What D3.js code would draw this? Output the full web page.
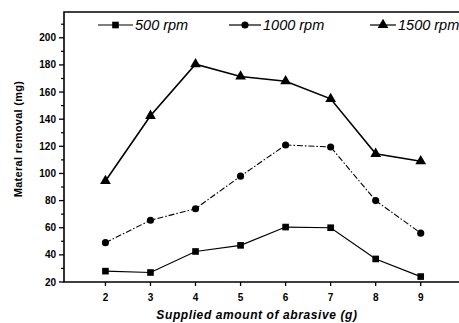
<!DOCTYPE html>
<html>
<head>
<meta charset="utf-8">
<script src="https://cdn.jsdelivr.net/npm/d3@7"></script>
<style>
  body { margin: 0; background: #fff; }
  svg { display: block; font-family: "Liberation Sans", Arial, sans-serif; }
</style>
</head>
<body>
<figure id="chart" style="margin:0"></figure>
<script>
// values
const abrasive = [2, 3, 4, 5, 6, 7, 8, 9];
const rpm500 = [28, 27, 42.5, 47, 60.5, 60, 37, 24];
const rpm1000 = [49, 65.5, 74, 98, 121, 119.5, 80, 56];
const rpm1500 = [94.5, 142.5, 180.5, 171.5, 168, 155, 114.5, 109];
const seriesNames = ["500 rpm", "1000 rpm", "1500 rpm"];
const yTicks = [20, 40, 60, 80, 100, 120, 140, 160, 180, 200];
const yMinor = [30, 50, 70, 90, 110, 130, 150, 170, 190, 210];

const width = 459, height = 323;

const x = d3.scaleLinear().domain([1.08, 9.85]).range([64, 459]);
const y = d3.scaleLinear().domain([20, 219]).range([282, 12]);

const svg = d3.select("#chart").append("svg")
  .attr("width", width)
  .attr("height", height);

// frame: left axis, bottom axis, top line
svg.append("path")
  .attr("d", `M${x.range()[1]},${y(219)}H${x(1.08)}V${y(20)}H${x.range()[1]}`)
  .attr("fill", "none")
  .attr("stroke", "#000")
  .attr("stroke-width", 1.6);

// y ticks
svg.selectAll(".ytick").data(yTicks).enter().append("line")
  .attr("x1", x(1.08) - 5).attr("x2", x(1.08))
  .attr("y1", d => y(d)).attr("y2", d => y(d))
  .attr("stroke", "#000").attr("stroke-width", 1.3);
svg.selectAll(".yminor").data(yMinor).enter().append("line")
  .attr("x1", x(1.08) - 3).attr("x2", x(1.08))
  .attr("y1", d => y(d)).attr("y2", d => y(d))
  .attr("stroke", "#000").attr("stroke-width", 1.2);
svg.selectAll(".ylab").data(yTicks).enter().append("text")
  .attr("x", x(1.08) - 8)
  .attr("y", d => y(d) + 3.5)
  .attr("text-anchor", "end")
  .style("font-size", "10px")
  .style("font-weight", "bold")
  .text(d => d);

// x ticks
svg.selectAll(".xtick").data(abrasive).enter().append("line")
  .attr("x1", d => x(d)).attr("x2", d => x(d))
  .attr("y1", y(20)).attr("y2", y(20) + 4)
  .attr("stroke", "#000").attr("stroke-width", 1.3);
svg.selectAll(".xlab").data(abrasive).enter().append("text")
  .attr("x", d => x(d))
  .attr("y", y(20) + 19)
  .attr("text-anchor", "middle")
  .style("font-size", "10px")
  .style("font-weight", "bold")
  .text(d => d);

// axis titles
svg.append("text")
  .attr("x", 257).attr("y", 319)
  .attr("text-anchor", "middle")
  .style("font-size", "12px")
  .style("font-weight", "bold")
  .style("font-style", "italic")
  .style("letter-spacing", "0.6px")
  .text("Supplied amount of abrasive (g)");
svg.append("text")
  .attr("transform", "translate(22,139) rotate(-90)")
  .attr("text-anchor", "middle")
  .style("font-size", "11px")
  .style("font-weight", "bold")
  .style("letter-spacing", "0.3px")
  .text("Materal removal (mg)");

const series = [
  { name: seriesNames[0], values: rpm500, marker: d3.symbolSquare, size: 44, width: 1.2, dash: null },
  { name: seriesNames[1], values: rpm1000, marker: d3.symbolCircle, size: 40, width: 1.1, dash: "6,2,1.5,2" },
  { name: seriesNames[2], values: rpm1500, marker: d3.symbolTriangle, size: 50, width: 1.6, dash: null }
];

const line = d3.line()
  .x(d => x(d[0]))
  .y(d => y(d[1]));

series.forEach(s => {
  const pts = abrasive.map((a, i) => [a, s.values[i]]);
  svg.append("path")
    .datum(pts)
    .attr("d", line)
    .attr("fill", "none")
    .attr("stroke", "#000")
    .attr("stroke-width", s.width)
    .attr("stroke-dasharray", s.dash);
  svg.selectAll(null).data(pts).enter().append("path")
    .attr("d", d3.symbol().type(s.marker).size(s.size))
    .attr("transform", d => `translate(${x(d[0])},${y(d[1])})`)
    .attr("fill", "#000");
});

// legend
const legendX = [98, 229, 370];
const legendLen = [35, 32, 26];
series.forEach((s, i) => {
  const g = svg.append("g").attr("transform", `translate(${legendX[i]},25)`);
  g.append("line")
    .attr("x1", 0).attr("x2", legendLen[i])
    .attr("stroke", "#000").attr("stroke-width", 1.2);
  g.append("path")
    .attr("d", d3.symbol().type(s.marker).size(s.size))
    .attr("transform", `translate(${legendLen[i] / 2},0)`)
    .attr("fill", "#000");
  g.append("text")
    .attr("x", legendLen[i] + 2)
    .attr("y", 5)
    .style("font-size", "14.5px")
    .style("font-style", "italic")
    .text(s.name);
});
</script>
</body>
</html>
